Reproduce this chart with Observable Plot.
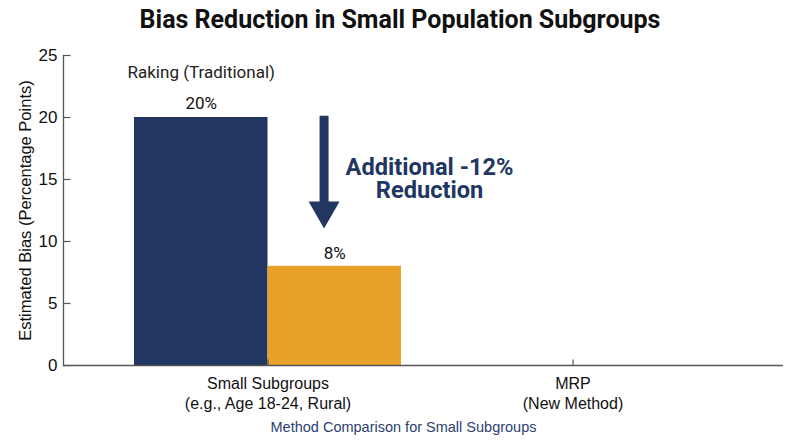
<!DOCTYPE html>
<html><head><meta charset="utf-8">
<script src="https://cdn.jsdelivr.net/npm/d3@7"></script>
<script src="https://cdn.jsdelivr.net/npm/@observablehq/plot@0.6"></script>
<style>
body{margin:0;background:#fff;}
#title{height:40px;line-height:40px;text-align:center;font-family:Roboto,sans-serif;font-weight:bold;font-size:25px;color:#111;}
</style></head><body>
<div id="title">Bias Reduction in Small Population Subgroups</div>
<div id="chart"></div>
<script>
const categories = ["Small Subgroups\n(e.g., Age 18-24, Rural)", "MRP\n(New Method)"];
const methods = ["Raking (Traditional)", "MRP (New Method)"];
const barCategory = [categories[0], categories[0]];
const biasValues = [20, 8];
const valueLabels = ["20%", "8%"];
const yTicks = [0, 5, 10, 15, 20, 25];
const seriesLabel = "Raking (Traditional)";
const seriesLabelY = 23.6;
const arrowFrom = 20.1, arrowTo = 13, arrowHead = 12.5;
const annotation = "Additional -12%\nReduction";
const annotationY = 15.05;
const yLabel = "Estimated Bias (Percentage Points)";
const xLabel = "Method Comparison for Small Subgroups";

const navy = "#213761", orange = "#E8A12A", axisColor = "#555";
const rows = methods.map((m, i) => ({category: barCategory[i], method: m, value: biasValues[i], label: valueLabels[i]}));

const common = {
  width: 800, height: 407,
  marginLeft: 63, marginRight: 23, marginTop: 15, marginBottom: 82,
  x: {domain: categories, paddingInner: 0.124, paddingOuter: 0.229, align: 0.5},
  y: {domain: [0, 25]},
  style: {fontFamily: "'Liberation Sans', Arial, sans-serif", fontSize: "16px", color: "#111", background: "#fff", overflow: "visible"}
};
const probe = Plot.plot({...common, marks: [Plot.barY(rows, {x: "category", y: "value"})]});
const bw = probe.scale("x").bandwidth;

const downTriangle = {draw(ctx, size) {
  const y = Math.sqrt(size / (3 * Math.sqrt(3)));
  ctx.moveTo(0, 2 * y); ctx.lineTo(-Math.sqrt(3) * y, -y); ctx.lineTo(Math.sqrt(3) * y, -y); ctx.closePath();
}};
const tickRight = {draw(ctx) { ctx.moveTo(0, 0); ctx.lineTo(7, 0); }};
const tickUp = {draw(ctx) { ctx.moveTo(0, 0); ctx.lineTo(0, -6); }};

const chart = Plot.plot({
  ...common,
  marks: [
    Plot.barY(rows.filter(r => r.method === methods[0]), {x: "category", y: "value", fill: navy, insetRight: bw / 2}),
    Plot.barY(rows.filter(r => r.method === methods[1]), {x: "category", y: "value", fill: orange, insetLeft: bw / 2}),
    Plot.text(rows.filter(r => r.method === methods[0]), {x: "category", y: "value", text: "label", dx: -bw / 4, dy: -14, fontFamily: "Roboto", fontSize: 17, fill: "#111"}),
    Plot.text(rows.filter(r => r.method === methods[1]), {x: "category", y: "value", text: "label", dx: bw / 4, dy: -13, fontFamily: "Roboto", fontSize: 17, fill: "#111"}),
    Plot.text([seriesLabel], {x: () => categories[0], y: () => seriesLabelY, text: d => d, dx: -bw / 4, fontFamily: "Roboto", fontSize: 17, fill: "#222"}),
    Plot.ruleX([categories[0]], {x: d => d, y1: arrowFrom, y2: arrowTo, stroke: navy, strokeWidth: 9, dx: 0.21 * bw}),
    Plot.dot([categories[0]], {x: d => d, y: () => arrowHead, r: 11.5, symbol: downTriangle, fill: navy, stroke: "none", dx: 0.21 * bw}),
    Plot.text([annotation], {x: () => categories[0], y: () => annotationY, text: d => d, dx: 0.605 * bw, fontFamily: "Roboto", fontWeight: "bold", fontSize: 23.6, lineHeight: 1.0, fill: navy}),
    Plot.axisY({ticks: yTicks, tickSize: 0, tickPadding: 6, fontSize: 17, label: null}),
    Plot.axisX({tickSize: 0, tickPadding: 10, fontSize: 16, lineHeight: 1.22, label: null}),
    Plot.dot(yTicks, {y: d => d, x: null, frameAnchor: "left", symbol: tickRight, stroke: axisColor, strokeWidth: 1.2, r: 4}),
    Plot.dot(categories, {x: d => d, y: null, frameAnchor: "bottom", symbol: tickUp, stroke: axisColor, strokeWidth: 1.2, r: 4}),
    Plot.ruleY([0], {stroke: axisColor, strokeWidth: 1.3, insetRight: -6}),
    Plot.frame({anchor: "left", stroke: axisColor, strokeWidth: 1.3}),
    Plot.text([yLabel], {x: null, y: null, text: d => d, frameAnchor: "left", textAnchor: "middle", rotate: -90, dx: -38, fontSize: 16.5, fill: "#111"}),
    Plot.text([xLabel], {x: null, y: null, text: d => d, frameAnchor: "bottom", dx: -17, dy: 66, fontSize: 14.5, fill: "#2c4170"})
  ]
});
document.getElementById("chart").appendChild(chart);
</script>
</body></html>
